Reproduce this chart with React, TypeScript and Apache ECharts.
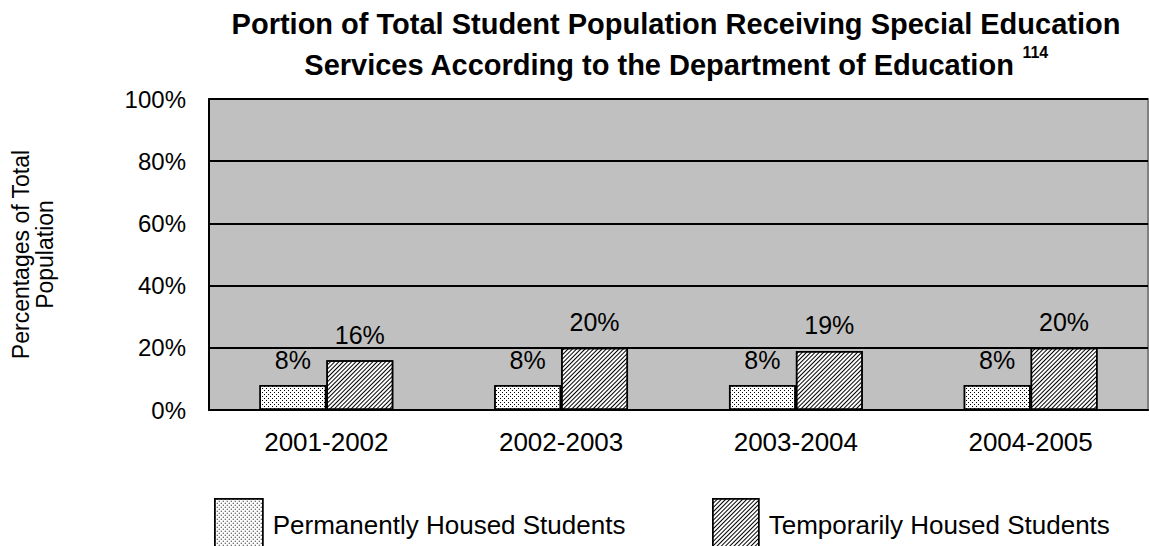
import React, { useEffect, useRef } from "react";
import * as echarts from "echarts";

const categories = ["2001-2002", "2002-2003", "2003-2004", "2004-2005"];
const permanentValues = [8, 8, 8, 8];
const temporaryValues = [16, 20, 19, 20];
const seriesNames = ["Permanently Housed Students", "Temporarily Housed Students"];
const titleLine1 = "Portion of Total Student Population Receiving Special Education";
const titleLine2 = "Services According to the Department of Education";
const titleNote = "114";
const yAxisTitle = "Percentages of Total\nPopulation";

const FONT = "'Liberation Sans', Arial, Helvetica, sans-serif";

const dotDecal = {
  symbol: "rect",
  symbolSize: 1,
  color: "#000000",
  dashArrayX: [[1, 3], [0, 2, 1, 1]],
  dashArrayY: [1, 1],
  rotation: 0,
};

const hatchDecal = {
  symbol: "rect",
  symbolSize: 1,
  color: "#000000",
  dashArrayX: [1, 0],
  dashArrayY: [1, 2],
  rotation: -Math.PI / 4,
};

export default function App() {
  const ref = useRef<HTMLDivElement>(null);
  useEffect(() => {
    if (!ref.current) return;
    const chart = echarts.init(ref.current, null, { renderer: "svg" });
    const labelCfg = {
      show: true,
      position: "top",
      distance: 13,
      fontSize: 25,
      color: "#000",
      fontFamily: FONT,
      formatter: "{c}%",
    };
    const legendText = { fontSize: 26, color: "#000", fontFamily: FONT, padding: [0, 0, 0, 5] };
    chart.setOption({
      animation: false,
      backgroundColor: "#ffffff",
      textStyle: { fontFamily: FONT },
      title: {
        left: 676,
        top: 3,
        padding: 0,
        textAlign: "center",
        text: titleLine1 + "\n" + titleLine2 + " {sup|" + titleNote + "}",
        textStyle: {
          fontSize: 29,
          fontWeight: "bold",
          color: "#000",
          fontFamily: FONT,
          lineHeight: 41,
          rich: {
            sup: {
              fontSize: 16,
              fontWeight: "bold",
              color: "#000",
              fontFamily: FONT,
              verticalAlign: "top",
              lineHeight: 18,
            },
          },
        },
      },
      legend: [
        {
          left: 214,
          top: 498,
          padding: 0,
          itemWidth: 48,
          itemHeight: 52,
          icon: "rect",
          data: [seriesNames[0]],
          textStyle: legendText,
          itemStyle: { borderColor: "#000", borderWidth: 1.5 },
        },
        {
          left: 712,
          top: 498,
          padding: 0,
          itemWidth: 46,
          itemHeight: 52,
          icon: "rect",
          data: [seriesNames[1]],
          textStyle: legendText,
          itemStyle: { borderColor: "#000", borderWidth: 1.5 },
        },
      ],
      grid: {
        left: 209,
        right: 1,
        top: 99,
        bottom: 136,
        containLabel: false,
        outerBoundsMode: "none",
        show: true,
        backgroundColor: "#c0c0c0",
        borderColor: "#808080",
        borderWidth: 2,
      },
      xAxis: {
        type: "category",
        data: categories,
        axisLine: { show: true, lineStyle: { color: "#000", width: 2 } },
        axisTick: { show: false },
        axisLabel: { fontSize: 26, color: "#000", fontFamily: FONT, margin: 19 },
      },
      yAxis: {
        type: "value",
        min: 0,
        max: 100,
        interval: 20,
        name: yAxisTitle,
        nameLocation: "middle",
        nameRotate: 90,
        nameGap: 152,
        nameTextStyle: { fontSize: 23, color: "#000", fontFamily: FONT, lineHeight: 24, align: "center" },
        axisLine: { show: true, lineStyle: { color: "#000", width: 2 } },
        axisTick: { show: false },
        splitLine: { show: true, lineStyle: { color: "#000", width: 2 } },
        axisLabel: { fontSize: 24, color: "#000", fontFamily: FONT, margin: 23, formatter: "{value}%" },
      },
      series: [
        {
          name: seriesNames[0],
          type: "bar",
          data: permanentValues,
          barGap: "0%",
          barCategoryGap: "43%",
          itemStyle: { color: "#ffffff", borderColor: "#000", borderWidth: 1.5, decal: dotDecal },
          label: labelCfg,
        },
        {
          name: seriesNames[1],
          type: "bar",
          data: temporaryValues,
          barGap: "0%",
          barCategoryGap: "43%",
          itemStyle: { color: "#ffffff", borderColor: "#000", borderWidth: 1.5, decal: hatchDecal },
          label: labelCfg,
        },
      ],
    });
    return () => chart.dispose();
  }, []);
  return (
    <div
      ref={ref}
      style={{ position: "absolute", left: 0, top: 0, width: 1149, height: 546 }}
    />
  );
}
